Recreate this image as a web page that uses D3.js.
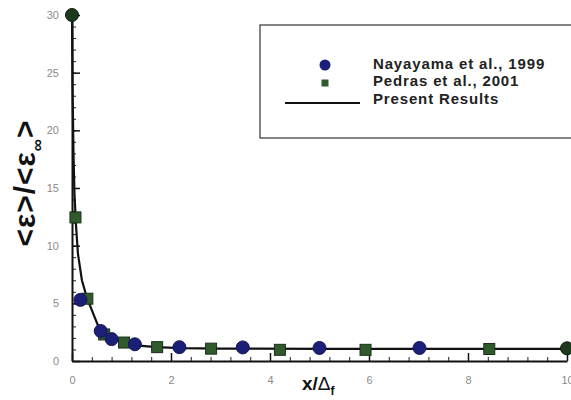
<!DOCTYPE html>
<html>
<head>
<meta charset="utf-8">
<script src="https://cdn.jsdelivr.net/npm/d3@7"></script>
<style>
  body { margin: 0; background: #fff; }
  svg { display: block; font-family: "Liberation Sans", Arial, sans-serif; }
</style>
</head>
<body>
<div id="chart"></div>
<script>
// Nayayama et al., 1999 (circles)
const nayX = [0.17, 0.58, 0.8, 1.27, 2.17, 3.45, 5.0, 7.02];
const nayY = [5.3, 2.6, 1.9, 1.45, 1.2, 1.18, 1.13, 1.13];

// Pedras et al., 2001 (squares)
const pedX = [0.07, 0.31, 0.65, 1.05, 1.72, 2.81, 4.2, 5.93, 8.43];
const pedY = [12.45, 5.4, 2.3, 1.6, 1.2, 1.07, 0.97, 0.97, 1.04];

// end markers drawn dark
const endX = [0, 10];
const endY = [30, 1.1];

// Present results (line)
const lineX = [0, 0.01, 0.03, 0.05, 0.08, 0.12, 0.2, 0.3, 0.55, 0.7, 0.85, 1.0, 1.3, 1.7, 2.2, 3, 5, 10];
const lineY = [30, 24, 18, 14.5, 11.8, 9.3, 7.0, 5.5, 2.8, 2.2, 1.85, 1.65, 1.35, 1.2, 1.12, 1.08, 1.05, 1.05];

const xTicks = [0, 2, 4, 6, 8, 10];
const yTicks = [0, 5, 10, 15, 20, 25, 30];
const legendLabels = ['Nayayama et al., 1999', 'Pedras et al., 2001', 'Present Results'];

const width = 571, height = 400;
const svg = d3.select('#chart').append('svg')
  .attr('width', width)
  .attr('height', height);

const x = d3.scaleLinear().domain([0, 10]).range([72, 567]);
const y = d3.scaleLinear().domain([0, 30]).range([361, 15]);

// minor ticks (inward)
svg.append('g')
  .attr('transform', `translate(0,${y(0)})`)
  .call(d3.axisTop(x).tickValues(d3.range(0, 10.01, 0.4)).tickSize(4).tickFormat(''))
  .call(g => g.select('.domain').remove())
  .call(g => g.selectAll('line').attr('stroke', '#222').attr('stroke-width', 1));
svg.append('g')
  .attr('transform', `translate(${x(0)},0)`)
  .call(d3.axisRight(y).tickValues(d3.range(0, 30.01, 1)).tickSize(4).tickFormat(''))
  .call(g => g.select('.domain').remove())
  .call(g => g.selectAll('line').attr('stroke', '#222').attr('stroke-width', 1));

// major ticks
const xAxis = svg.append('g')
  .attr('transform', `translate(0,${y(0)})`)
  .call(d3.axisBottom(x).tickValues(xTicks).tickSizeInner(-8).tickSizeOuter(0).tickPadding(15));
const yAxis = svg.append('g')
  .attr('transform', `translate(${x(0)},0)`)
  .call(d3.axisLeft(y).tickValues(yTicks).tickSizeInner(-8).tickSizeOuter(0).tickPadding(13));

[xAxis, yAxis].forEach(a => {
  a.select('.domain').attr('stroke', '#111').attr('stroke-width', 2);
  a.selectAll('line').attr('stroke', '#111').attr('stroke-width', 1.5);
  a.selectAll('text').attr('fill', '#8a8a8a').style('font-size', '11px');
});

// line
const lineData = lineX.map((d, i) => [d, lineY[i]]);
svg.append('path')
  .datum(lineData)
  .attr('fill', 'none')
  .attr('stroke', '#111')
  .attr('stroke-width', 2.2)
  .attr('d', d3.line().x(d => x(d[0])).y(d => y(d[1])));

// squares
svg.selectAll('rect.ped')
  .data(pedX.map((d, i) => [d, pedY[i]]))
  .enter().append('rect')
  .attr('class', 'ped')
  .attr('x', d => x(d[0]) - 5.5)
  .attr('y', d => y(d[1]) - 5.5)
  .attr('width', 11)
  .attr('height', 11)
  .attr('fill', '#2f5a2c')
  .attr('stroke', '#1c2e1a')
  .attr('stroke-width', 1);

// circles
svg.selectAll('circle.nay')
  .data(nayX.map((d, i) => [d, nayY[i]]))
  .enter().append('circle')
  .attr('class', 'nay')
  .attr('cx', d => x(d[0]))
  .attr('cy', d => y(d[1]))
  .attr('r', 6.5)
  .attr('fill', '#1c1f78')
  .attr('stroke', '#141652')
  .attr('stroke-width', 1);

svg.selectAll('circle.end')
  .data(endX.map((d, i) => [d, endY[i]]))
  .enter().append('circle')
  .attr('class', 'end')
  .attr('cx', d => x(d[0]))
  .attr('cy', d => y(d[1]))
  .attr('r', 6.5)
  .attr('fill', '#1d3a1d')
  .attr('stroke', '#0e1a0e');

// axis titles
svg.append('text')
  .attr('transform', 'translate(35,183) rotate(-90)')
  .attr('text-anchor', 'middle')
  .style('font-size', '30px')
  .style('font-weight', 'bold')
  .style('letter-spacing', '1px')
  .attr('fill', '#111')
  .html('&lt;ε&gt;/&lt;ε<tspan dy="8" font-size="17">∞</tspan><tspan dy="-8">&gt;</tspan>');

svg.append('text')
  .attr('x', 302)
  .attr('y', 390)
  .style('font-size', '19px')
  .attr('fill', '#111')
  .html('<tspan font-weight="bold">x/</tspan><tspan>Δ</tspan><tspan dy="5" font-size="12" font-weight="bold">f</tspan>');

// legend
const lg = svg.append('g');
lg.append('rect')
  .attr('x', 260).attr('y', 25)
  .attr('width', 330).attr('height', 113)
  .attr('fill', '#fff')
  .attr('stroke', '#333')
  .attr('stroke-width', 1.2);
lg.append('circle').attr('cx', 325).attr('cy', 65).attr('r', 5.5).attr('fill', '#1c1f78');
lg.append('rect').attr('x', 321.5).attr('y', 79.5).attr('width', 7).attr('height', 7).attr('fill', '#2f5a2c');
lg.append('line').attr('x1', 285).attr('x2', 360).attr('y1', 103).attr('y2', 103)
  .attr('stroke', '#111').attr('stroke-width', 2);
lg.selectAll('text.lab')
  .data(legendLabels)
  .enter().append('text')
  .attr('class', 'lab')
  .attr('x', 373)
  .attr('y', (d, i) => 68.5 + i * 17.7)
  .style('font-size', '15px')
  .style('font-weight', 'bold')
  .style('letter-spacing', '0.85px')
  .attr('fill', '#222')
  .text(d => d);
</script>
</body>
</html>
